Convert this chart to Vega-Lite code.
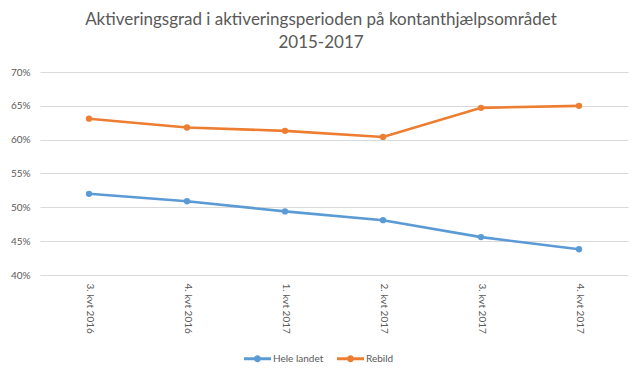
{
  "$schema": "https://vega.github.io/schema/vega-lite/v6.json",
  "autosize": "none",
  "width": 588,
  "height": 203,
  "padding": {"left": 40, "top": 72, "right": 15, "bottom": 102},
  "background": "white",
  "title": {
    "text": ["Aktiveringsgrad i aktiveringsperioden på kontanthjælpsområdet", "2015-2017"],
    "font": "Lato",
    "fontSize": 17,
    "fontWeight": "normal",
    "color": "#595959",
    "lineHeight": 23,
    "anchor": "middle",
    "dx": -13,
    "offset": 15
  },
  "data": {
    "values": [
      {"kvartal": "3. kvt 2016", "serie": "Hele landet", "v": 0.520},
      {"kvartal": "4. kvt 2016", "serie": "Hele landet", "v": 0.509},
      {"kvartal": "1. kvt 2017", "serie": "Hele landet", "v": 0.494},
      {"kvartal": "2. kvt 2017", "serie": "Hele landet", "v": 0.481},
      {"kvartal": "3. kvt 2017", "serie": "Hele landet", "v": 0.456},
      {"kvartal": "4. kvt 2017", "serie": "Hele landet", "v": 0.438},
      {"kvartal": "3. kvt 2016", "serie": "Rebild", "v": 0.631},
      {"kvartal": "4. kvt 2016", "serie": "Rebild", "v": 0.618},
      {"kvartal": "1. kvt 2017", "serie": "Rebild", "v": 0.613},
      {"kvartal": "2. kvt 2017", "serie": "Rebild", "v": 0.604},
      {"kvartal": "3. kvt 2017", "serie": "Rebild", "v": 0.647},
      {"kvartal": "4. kvt 2017", "serie": "Rebild", "v": 0.650}
    ]
  },
  "mark": {"type": "line", "strokeWidth": 2.6, "point": {"size": 40, "filled": true}},
  "encoding": {
    "x": {
      "field": "kvartal",
      "type": "ordinal",
      "sort": null,
      "scale": {"paddingInner": 0, "paddingOuter": 0.5},
      "axis": {
        "title": null,
        "labelAngle": 90,
        "labelAlign": "left",
        "labelBaseline": "middle",
        "labelPadding": 8,
        "labelFont": "Lato",
        "labelFontSize": 10,
        "labelColor": "#595959",
        "ticks": false,
        "domain": false,
        "grid": false
      }
    },
    "y": {
      "field": "v",
      "type": "quantitative",
      "scale": {"domain": [0.4, 0.7], "nice": false, "zero": false},
      "axis": {
        "title": null,
        "format": ".0%",
        "values": [0.4, 0.45, 0.5, 0.55, 0.6, 0.65, 0.7],
        "labelFont": "Lato",
        "labelFontSize": 10,
        "labelColor": "#595959",
        "labelPadding": 10,
        "ticks": false,
        "domain": false,
        "gridColor": "#D9D9D9",
        "gridWidth": 1
      }
    },
    "color": {
      "field": "serie",
      "type": "nominal",
      "scale": {"domain": ["Hele landet", "Rebild"], "range": ["#5B9BD5", "#ED7D31"]},
      "legend": {
        "title": null,
        "orient": "none",
        "direction": "horizontal",
        "legendX": 204,
        "legendY": 273,
        "symbolType": "M-1,-0.11H1V0.11H-1Z M0.26,0A0.26,0.26,0,1,1,-0.26,0A0.26,0.26,0,1,1,0.26,0Z",
        "symbolSize": 729,
        "symbolStrokeWidth": 0,
        "labelFont": "Lato",
        "labelFontSize": 10,
        "labelColor": "#595959",
        "labelOffset": 2,
        "columnPadding": 13,
        "encode": {
          "symbols": {"update": {"fill": {"scale": "color", "field": "value"}, "strokeWidth": {"value": 0}}}
        }
      }
    }
  },
  "config": {"view": {"stroke": null}}
}
